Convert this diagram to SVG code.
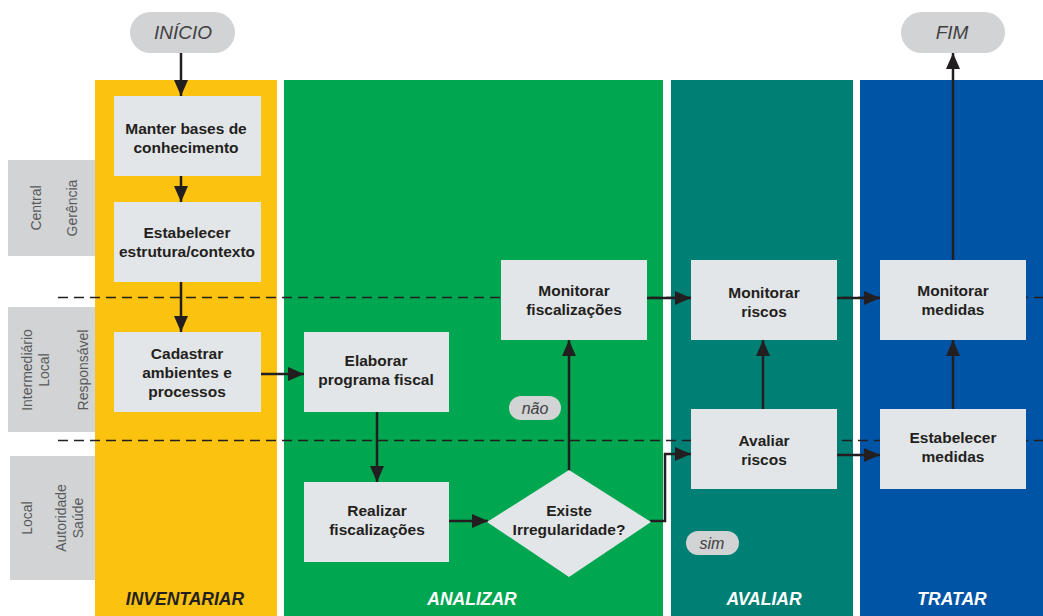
<svg xmlns="http://www.w3.org/2000/svg" width="1043" height="616" viewBox="0 0 1043 616">
  <style>
    .node rect, .node polygon { fill: #e3e6e9; }
    .node text { font-family: "Liberation Sans", Arial, sans-serif; font-weight: bold; font-size: 15.5px; fill: #231f20; text-anchor: middle; }
    .pill rect { fill: #d1d3d4; }
    .pill text { font-family: "Liberation Sans", Arial, sans-serif; font-style: italic; fill: #414042; text-anchor: middle; }
    .lane { font-family: "Liberation Sans", Arial, sans-serif; font-weight: bold; font-style: italic; font-size: 17.5px; text-anchor: middle; }
    .level rect { fill: #d1d3d4; }
    .level text { font-family: "Liberation Sans", Arial, sans-serif; font-size: 14px; fill: #58595b; text-anchor: middle; }
    .conn { fill: none; stroke: #231f20; stroke-width: 2.5; }
    .dash { fill: none; stroke: #231f20; stroke-width: 1.3; stroke-dasharray: 10 6; }
  </style>
  <defs>
    <marker id="arrow" viewBox="0 0 16 14" refX="16" refY="7" markerWidth="16" markerHeight="14" markerUnits="userSpaceOnUse" orient="auto">
      <path d="M0,0 L16,7 L0,14 Z" fill="#231f20"/>
    </marker>
  </defs>

  <rect width="1043" height="616" fill="#ffffff"/>

  <!-- swimlane columns -->
  <g id="lanes">
    <rect x="95" y="80" width="182" height="536" fill="#fcc210"/>
    <rect x="284" y="80" width="379" height="536" fill="#00a650"/>
    <rect x="671" y="80" width="182" height="536" fill="#008075"/>
    <rect x="860" y="80" width="183" height="536" fill="#0054a6"/>
    <text class="lane" x="185" y="605" fill="#231f20">INVENTARIAR</text>
    <text class="lane" x="472" y="605" fill="#ffffff">ANALIZAR</text>
    <text class="lane" x="764" y="605" fill="#ffffff">AVALIAR</text>
    <text class="lane" x="952" y="605" fill="#ffffff">TRATAR</text>
  </g>

  <!-- hierarchy levels -->
  <g id="level-central" class="level">
    <rect x="8" y="160" width="87" height="96"/>
    <text transform="translate(41,208) rotate(-90)">Central</text>
    <text transform="translate(77,208) rotate(-90)">Gerência</text>
  </g>
  <g id="level-intermediario" class="level">
    <rect x="8" y="307" width="87" height="125"/>
    <text transform="translate(32,370) rotate(-90)">Intermediário</text>
    <text transform="translate(49,370) rotate(-90)">Local</text>
    <text transform="translate(88,370) rotate(-90)">Responsável</text>
  </g>
  <g id="level-local" class="level">
    <rect x="10" y="456" width="85" height="124"/>
    <text transform="translate(32,518) rotate(-90)">Local</text>
    <text transform="translate(66,518) rotate(-90)">Autoridade</text>
    <text transform="translate(83,518) rotate(-90)">Saúde</text>
  </g>

  <!-- level boundaries -->
  <g id="boundaries">
    <line class="dash" x1="58" y1="297.5" x2="1043" y2="297.5"/>
    <line class="dash" x1="58" y1="440.5" x2="1043" y2="440.5"/>
  </g>

  <!-- connectors -->
  <g id="connectors">
    <line class="conn" x1="181" y1="53" x2="181" y2="96" marker-end="url(#arrow)"/>
    <line class="conn" x1="181" y1="176" x2="181" y2="202" marker-end="url(#arrow)"/>
    <line class="conn" x1="181" y1="282" x2="181" y2="332" marker-end="url(#arrow)"/>
    <line class="conn" x1="261" y1="374" x2="304" y2="374" marker-end="url(#arrow)"/>
    <line class="conn" x1="377" y1="412" x2="377" y2="482" marker-end="url(#arrow)"/>
    <line class="conn" x1="449" y1="521" x2="488" y2="521" marker-end="url(#arrow)"/>
    <line class="conn" x1="569" y1="471" x2="569" y2="340" marker-end="url(#arrow)"/>
    <polyline class="conn" points="650,521 665,521 665,454 691,454" marker-end="url(#arrow)"/>
    <line class="conn" x1="647" y1="298" x2="691" y2="298" marker-end="url(#arrow)"/>
    <line class="conn" x1="763" y1="409" x2="763" y2="340" marker-end="url(#arrow)"/>
    <line class="conn" x1="837" y1="455" x2="880" y2="455" marker-end="url(#arrow)"/>
    <line class="conn" x1="837" y1="298" x2="880" y2="298" marker-end="url(#arrow)"/>
    <line class="conn" x1="953" y1="409" x2="953" y2="340" marker-end="url(#arrow)"/>
    <line class="conn" x1="953" y1="260" x2="953" y2="53" marker-end="url(#arrow)"/>
  </g>

  <!-- terminals -->
  <g id="inicio" class="pill">
    <rect x="130" y="12" width="105" height="41" rx="20.5"/>
    <text x="183" y="39" font-size="19">INÍCIO</text>
  </g>
  <g id="fim" class="pill">
    <rect x="901" y="12" width="104" height="41" rx="20.5"/>
    <text x="952" y="39" font-size="19">FIM</text>
  </g>

  <!-- process steps -->
  <g id="manter-bases" class="node">
    <rect x="114" y="96" width="147" height="80"/>
    <text x="186" y="134">Manter bases de</text>
    <text x="186" y="153">conhecimento</text>
  </g>
  <g id="estabelecer-estrutura" class="node">
    <rect x="114" y="202" width="147" height="80"/>
    <text x="187" y="238">Estabelecer</text>
    <text x="187" y="257">estrutura/contexto</text>
  </g>
  <g id="cadastrar" class="node">
    <rect x="114" y="332" width="147" height="80"/>
    <text x="187" y="359">Cadastrar</text>
    <text x="187" y="378">ambientes e</text>
    <text x="187" y="397">processos</text>
  </g>
  <g id="elaborar" class="node">
    <rect x="304" y="332" width="145" height="80"/>
    <text x="376" y="366">Elaborar</text>
    <text x="376" y="385">programa fiscal</text>
  </g>
  <g id="realizar" class="node">
    <rect x="304" y="482" width="145" height="80"/>
    <text x="377" y="516">Realizar</text>
    <text x="377" y="535">fiscalizações</text>
  </g>
  <g id="existe-irregularidade" class="node">
    <polygon points="569,470 651,522 569,577 487,522"/>
    <text x="569" y="516">Existe</text>
    <text x="569" y="535">Irregularidade?</text>
  </g>
  <g id="monitorar-fiscalizacoes" class="node">
    <rect x="501" y="260" width="146" height="80"/>
    <text x="574" y="296">Monitorar</text>
    <text x="574" y="315">fiscalizações</text>
  </g>
  <g id="monitorar-riscos" class="node">
    <rect x="691" y="260" width="146" height="80"/>
    <text x="764" y="298">Monitorar</text>
    <text x="764" y="317">riscos</text>
  </g>
  <g id="avaliar-riscos" class="node">
    <rect x="691" y="409" width="146" height="80"/>
    <text x="764" y="446">Avaliar</text>
    <text x="764" y="465">riscos</text>
  </g>
  <g id="monitorar-medidas" class="node">
    <rect x="880" y="260" width="146" height="80"/>
    <text x="953" y="296">Monitorar</text>
    <text x="953" y="315">medidas</text>
  </g>
  <g id="estabelecer-medidas" class="node">
    <rect x="880" y="409" width="146" height="80"/>
    <text x="953" y="443">Estabelecer</text>
    <text x="953" y="462">medidas</text>
  </g>

  <!-- decision labels -->
  <g id="label-nao" class="pill">
    <rect x="509" y="396" width="52" height="24" rx="12"/>
    <text x="535" y="414" font-size="16">não</text>
  </g>
  <g id="label-sim" class="pill">
    <rect x="686" y="531" width="53" height="24" rx="12"/>
    <text x="712" y="549" font-size="16">sim</text>
  </g>
</svg>
